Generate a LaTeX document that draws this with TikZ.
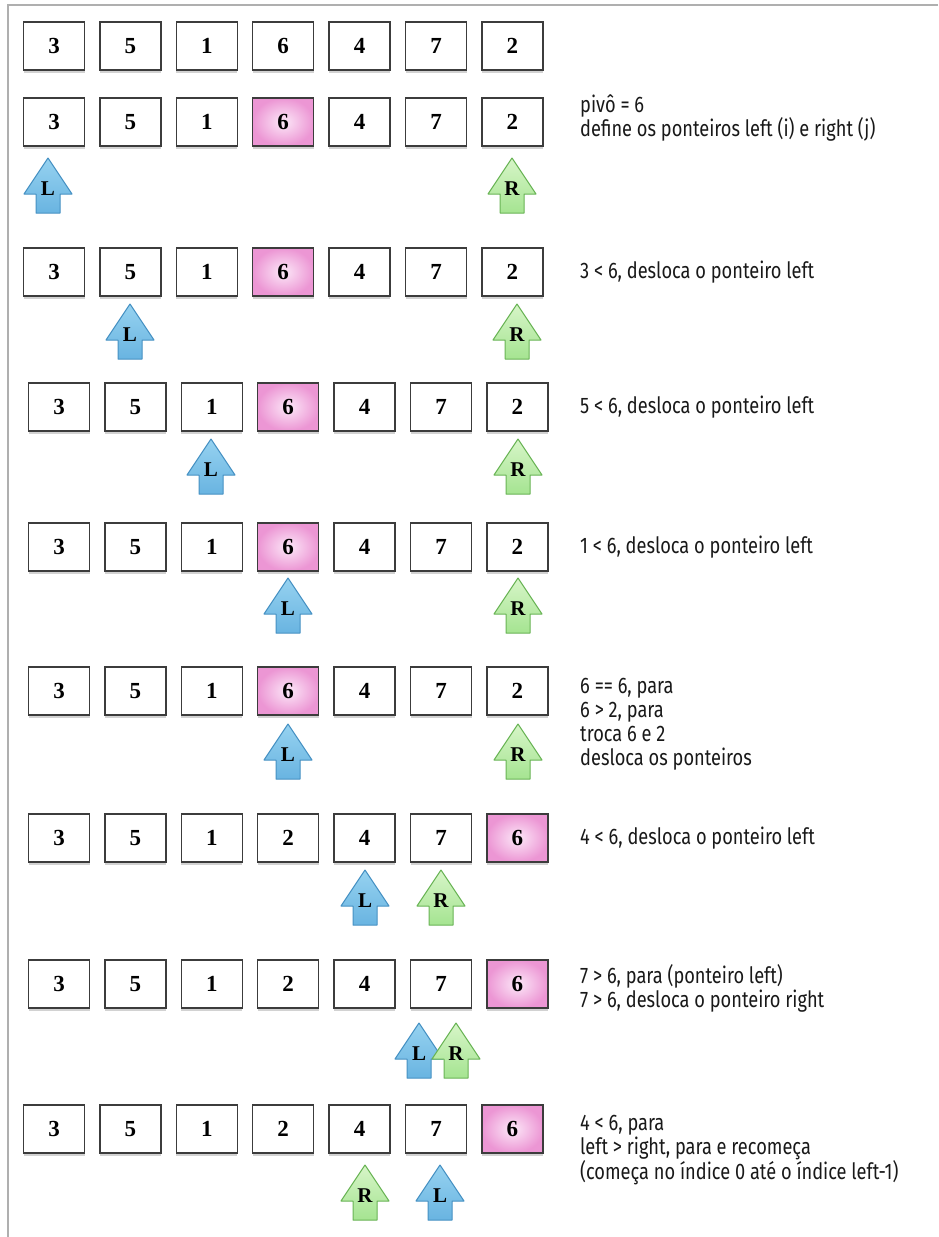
\documentclass[tikz,border=0pt]{standalone}
\usepackage{fontspec}
\setmainfont{Liberation Serif}
\newfontfamily\notefont[FakeStretch=0.81]{Fira Sans}
\usetikzlibrary{shadows}
\definecolor{framegray}{RGB}{175,175,175}
\definecolor{celledge}{RGB}{60,60,60}
\definecolor{pinkout}{RGB}{236,150,212}
\definecolor{pinkin}{RGB}{252,232,248}
\definecolor{blueedge}{RGB}{70,145,195}
\definecolor{bluetop}{RGB}{150,210,240}
\definecolor{bluebot}{RGB}{105,180,225}
\definecolor{greenedge}{RGB}{105,180,85}
\definecolor{greentop}{RGB}{215,245,200}
\definecolor{greenbot}{RGB}{165,228,145}
\definecolor{notecolor}{RGB}{25,25,25}
\tikzset{
  cell/.style={draw=celledge, line width=1.3pt, fill=white, minimum width=61pt,
    minimum height=48pt, inner sep=0pt, font=\fontsize{23}{23}\selectfont\bfseries,
    drop shadow={shadow xshift=0pt, shadow yshift=-2.5pt, opacity=0.35}},
  pivotcell/.style={cell, inner color=pinkin, outer color=pinkout},
  blueptr/.style={draw=blueedge, line width=1pt, line join=round, top color=bluetop, bottom color=bluebot},
  greenptr/.style={draw=greenedge, line width=1pt, line join=round, top color=greentop, bottom color=greenbot},
  ptrlabel/.style={inner sep=0pt, font=\fontsize{21}{21}\selectfont\bfseries},
  note/.style={anchor=west, align=left, inner sep=0pt, text=notecolor,
    font=\notefont\fontsize{22.5}{24}\selectfont},
}
\newcommand\arrayrow[5]{%
  \foreach \v [count=\i] in {#4}{%
    \ifnum\i=#5\relax
      \node[pivotcell] (#1-\i) at ({#2+(\i-1)*76.4},#3) {\v};
    \else
      \node[cell] (#1-\i) at ({#2+(\i-1)*76.4},#3) {\v};
    \fi}}
\newcommand\ptr[5]{%
  \path[#5] (#2,#3) -- ++(24,36) -- ++(-12,0) -- ++(0,19) -- ++(-24,0)
    -- ++(0,-19) -- ++(-12,0) -- cycle;
  \node[ptrlabel] (#1) at (#2,{#3+31}) {#4};}
\begin{document}
\begin{tikzpicture}[x=1pt,y=-1pt]
\useasboundingbox[fill=white] (0,0) rectangle (938,1237);
\draw[framegray, line width=2pt] (938,5) -- (8,5) -- (8,1237);
% rows of cells
\arrayrow{r1}{54}{46}{3,5,1,6,4,7,2}{0}
\arrayrow{r2}{54}{122}{3,5,1,6,4,7,2}{4}
\arrayrow{r3}{54}{272}{3,5,1,6,4,7,2}{4}
\arrayrow{r4}{59}{407}{3,5,1,6,4,7,2}{4}
\arrayrow{r5}{59}{547}{3,5,1,6,4,7,2}{4}
\arrayrow{r6}{59}{691}{3,5,1,6,4,7,2}{4}
\arrayrow{r7}{59}{838}{3,5,1,2,4,7,6}{7}
\arrayrow{r8}{59}{984}{3,5,1,2,4,7,6}{7}
\arrayrow{r9}{54}{1129}{3,5,1,2,4,7,6}{7}
% pointers
\ptr{L2}{48}{158}{L}{blueptr}
\ptr{R2}{512}{158}{R}{greenptr}
\ptr{L3}{130}{304}{L}{blueptr}
\ptr{R3}{517}{304}{R}{greenptr}
\ptr{L4}{211}{439}{L}{blueptr}
\ptr{R4}{518}{439}{R}{greenptr}
\ptr{L5}{288}{578}{L}{blueptr}
\ptr{R5}{518}{578}{R}{greenptr}
\ptr{L6}{288}{724}{L}{blueptr}
\ptr{R6}{518}{724}{R}{greenptr}
\ptr{L7}{365}{870}{L}{blueptr}
\ptr{R7}{441}{870}{R}{greenptr}
\ptr{L8}{419}{1023}{L}{blueptr}
\ptr{R8}{456}{1023}{R}{greenptr}
\ptr{R9}{365}{1165}{R}{greenptr}
\ptr{L9}{440}{1165}{L}{blueptr}
% notes
\node[note] (n2) at (580,118) {pivô = 6\\define os ponteiros left (i) e right (j)};
\node[note] (n3) at (580,272) {3 < 6, desloca o ponteiro left};
\node[note] (n4) at (580,407) {5 < 6, desloca o ponteiro left};
\node[note] (n5) at (580,547) {1 < 6, desloca o ponteiro left};
\node[note] (n6) at (580,724) {6 == 6, para\\6 > 2, para\\troca 6 e 2\\desloca os ponteiros};
\node[note] (n7) at (580,838) {4 < 6, desloca o ponteiro left};
\node[note] (n8) at (580,988) {7 > 6, para (ponteiro left)\\7 > 6, desloca o ponteiro right};
\node[note] (n9) at (580,1150) {4 < 6, para\\left > right, para e recomeça\\(começa no índice 0 até o índice left-1)};
\end{tikzpicture}
\end{document}
